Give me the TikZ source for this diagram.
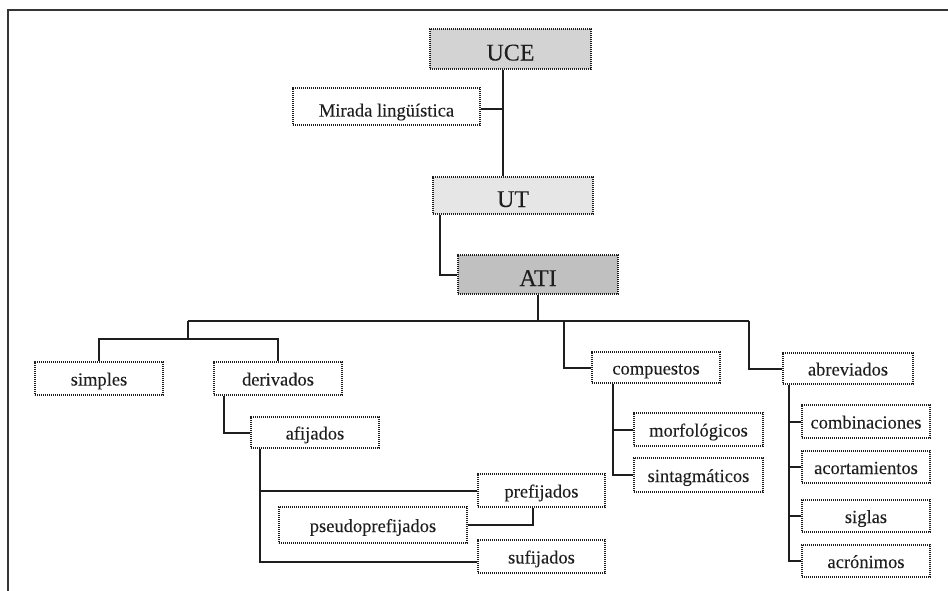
\documentclass[tikz,border=0pt]{standalone}
\usepackage{fontspec}
\setmainfont{Liberation Serif}
\newfontfamily\heavyserif[FakeBold=0.05]{Liberation Serif}
\usetikzlibrary{calc}
\definecolor{ink}{HTML}{1E1E1E}
\definecolor{uce}{HTML}{D3D3D3}
\definecolor{ut}{HTML}{E6E6E6}
\definecolor{ati}{HTML}{C0C0C0}
\newcommand\mybox[7]{\node[#6, minimum width={(#3-#2)*1pt}, minimum height={(#5-#4)*1pt}] (#1) at ({(#2+#3)/2},{(#4+#5)/2}) {#7};}
\begin{document}
\begin{tikzpicture}[x=1pt,y=-1pt,
  box/.style={draw=ink, line width=1.1pt, dash pattern=on 1.1pt off 0.9pt, inner sep=0pt, text=ink, font=\heavyserif\fontsize{18.5}{20}\selectfont, text height=14pt, text depth=0pt},
  bigbox/.style={box, font=\heavyserif\fontsize{24}{26}\selectfont, text height=23pt, text depth=0pt},
  link/.style={draw=ink, line width=2pt},
  frame/.style={draw=ink!90, line width=2.4pt}]
\useasboundingbox (0,0) rectangle (948,590);
\draw[frame] (8,591) -- (8,10) -- (949,10);
% boxes
\mybox{UCE}{430}{591}{29}{69}{bigbox,fill=uce}{UCE}
\mybox{mir}{293}{480}{88}{125}{box,text height=20pt}{Mirada lingüística}
\mybox{UT}{433}{593}{177}{214}{bigbox,fill=ut}{UT}
\mybox{ATI}{458}{618}{255}{294}{bigbox,fill=ati}{ATI}
\mybox{simples}{35}{163}{362}{395}{box}{simples}
\mybox{derivados}{214}{342}{362}{395}{box}{derivados}
\mybox{afijados}{251}{379}{417}{448}{box}{afijados}
\mybox{prefijados}{478}{605}{474}{507}{box}{prefijados}
\mybox{pseudo}{279}{467}{507}{543}{box}{pseudoprefijados}
\mybox{sufijados}{478}{605}{540}{573}{box}{sufijados}
\mybox{compuestos}{592}{720}{352}{383}{box}{compuestos}
\mybox{morf}{634}{763}{413}{446}{box}{morfológicos}
\mybox{sint}{634}{763}{458}{492}{box}{sintagmáticos}
\mybox{abrev}{783}{913}{353}{384}{box}{abreviados}
\mybox{comb}{802}{930}{405}{438}{box}{combinaciones}
\mybox{acort}{802}{930}{451}{483}{box}{acortamientos}
\mybox{siglas}{802}{930}{500}{532}{box}{siglas}
\mybox{acron}{802}{930}{545}{577}{box}{acrónimos}
% helper coordinates
\coordinate (t1) at (503,0);
\coordinate (t2) at (440,0);
\coordinate (t3) at (538,0);
\coordinate (bus) at (0,321);
\coordinate (b1) at (188,0);
\coordinate (sub) at (0,339);
\coordinate (c1) at (564,0);
\coordinate (a1) at (749,0);
\coordinate (d1) at (224,0);
\coordinate (f1) at (260,0);
\coordinate (p1) at (533,0);
\coordinate (k1) at (613,0);
\coordinate (r1) at (789,0);
\coordinate (suf) at (0,562);
\coordinate (mirl) at (0,109);
% connectors
\draw[link] (UCE.south -| t1) -- (UT.north -| t1);
\draw[link] (mir.east |- mirl) -- (mirl -| t1);
\draw[link] (UT.south -| t2) |- (ATI.west);
\draw[link] (ATI.south -| t3) -- (bus -| t3);
\draw[link] (bus -| b1) -- (bus -| a1);
\draw[link] (bus -| b1) -- (sub -| b1);
\draw[link] (simples.north) |- (sub -| derivados.north) -- (derivados.north);
\draw[link] (bus -| c1) |- (compuestos.west);
\draw[link] (bus -| a1) |- (abrev.west);
\draw[link] (derivados.south -| d1) |- (afijados.west);
\draw[link] (afijados.south -| f1) |- (sufijados.west |- suf);
\draw[link] (afijados.south -| f1) |- (prefijados.west);
\draw[link] (pseudo.east) -| (prefijados.south -| p1);
\draw[link] (compuestos.south -| k1) |- (sint.west);
\draw[link] (compuestos.south -| k1) |- (morf.west);
\draw[link] (abrev.south -| r1) |- (acron.west);
\draw[link] (abrev.south -| r1) |- (comb.west);
\draw[link] (abrev.south -| r1) |- (acort.west);
\draw[link] (abrev.south -| r1) |- (siglas.west);
\end{tikzpicture}
\end{document}
